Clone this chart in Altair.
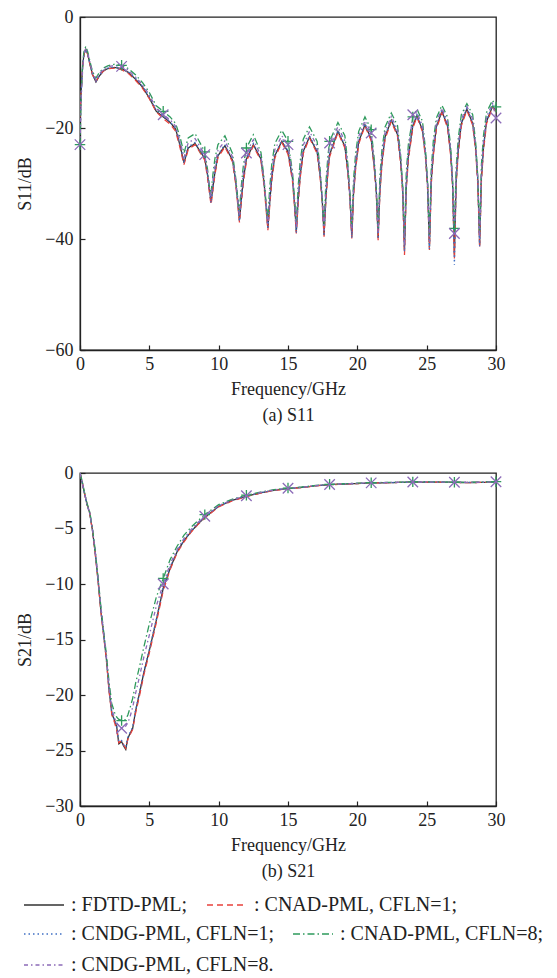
import altair as alt
import pandas as pd

SERIES = ["FDTD-PML", "CNAD-PML, CFLN=1", "CNDG-PML, CFLN=1",
          "CNAD-PML, CFLN=8", "CNDG-PML, CFLN=8"]
COLORS = ["#333333", "#e8413c", "#3f6fc4", "#2e9a5c", "#8c6bb8"]
DASHES = [[1, 0], [6, 4], [1.5, 3], [7, 3, 1.5, 3], [4, 3, 1.5, 3]]
MARKER_SERIES = ["CNAD-PML, CFLN=8", "CNDG-PML, CFLN=8"]
MARKER_COLORS = ["#2e9a5c", "#8c6bb8"]
MARKER_SHAPES = ["M-1,0L1,0M0,-1L0,1", "M-1,-1L1,1M-1,1L1,-1"]
X_TICKS = [0, 5, 10, 15, 20, 25, 30]

# ---------------- S11 ----------------
S11_FREQ = [0, 0.1, 0.2, 0.3, 0.42, 0.55, 0.7, 0.9, 1.15, 1.4, 1.7, 2.0, 2.5, 3.0, 3.5,
            4.0, 4.5, 5.0, 5.5, 6.0, 6.5, 6.9, 7.2, 7.5, 7.8, 8.3,
            9.0, 9.2, 9.33, 9.45, 9.58, 9.73, 9.95, 10.45,
            11.0, 11.22, 11.37, 11.5, 11.63, 11.78, 12.0, 12.5,
            13.05, 13.27, 13.42, 13.55, 13.68, 13.83, 14.05, 14.55,
            15.0, 15.32, 15.47, 15.6, 15.73, 15.88, 16.1, 16.55,
            17.1, 17.32, 17.47, 17.6, 17.73, 17.88, 18.0, 18.6,
            19.1, 19.32, 19.47, 19.6, 19.73, 19.88, 20.1, 20.55,
            21.0, 21.22, 21.37, 21.5, 21.63, 21.78, 22.0, 22.45,
            22.9, 23.12, 23.27, 23.4, 23.53, 23.68, 24.0, 24.3,
            24.7, 24.92, 25.07, 25.2, 25.33, 25.48, 25.7, 26.1,
            26.5, 26.72, 26.87, 27.0, 27.13, 27.28, 27.5, 27.9,
            28.32, 28.54, 28.69, 28.82, 28.95, 29.1, 29.32, 29.75, 30.0]

S11_FDTD = [-18, -12.5, -8.5, -6.5, -5.8, -6.6, -8.3, -10.3, -11.7, -10.6, -9.7, -9.3, -9.1, -9.3, -10.0,
            -11.2, -12.6, -14.6, -17.0, -18.0, -19.0, -20.2, -23.0, -26.3, -23.6, -22.8,
            -25.5, -28.5, -31.0, -33.3, -30.8, -28.0, -25.0, -23.2,
            -25.8, -29.5, -33.0, -36.6, -33.0, -29.3, -25.6, -23.0,
            -25.6, -29.8, -34.0, -38.0, -33.5, -29.0, -25.0, -22.4,
            -24.3, -29.0, -33.5, -38.7, -33.0, -28.5, -24.2, -21.6,
            -24.3, -28.5, -33.0, -39.3, -32.5, -27.5, -24.8, -20.6,
            -23.3, -27.8, -32.5, -39.6, -31.5, -26.8, -22.5, -19.4,
            -22.0, -26.8, -31.5, -39.8, -31.0, -26.0, -21.6, -18.6,
            -21.2, -25.8, -31.0, -42.0, -30.3, -25.2, -19.6, -17.8,
            -20.4, -25.0, -30.5, -41.5, -29.5, -24.5, -19.8, -17.0,
            -19.6, -24.2, -30.0, -43.0, -29.3, -24.0, -19.2, -16.6,
            -19.2, -23.8, -29.5, -41.1, -28.8, -23.5, -18.8, -16.1, -16.8]

S11_CNAD1 = [-18, -12.6, -8.6, -6.6, -5.9, -6.7, -8.4, -10.4, -11.6, -10.5, -9.7, -9.3, -9.2, -9.5, -10.2,
             -11.4, -12.8, -14.7, -17.1, -18.3, -19.3, -20.6, -23.4, -26.6, -23.9, -23.0,
             -25.8, -29.0, -31.6, -33.8, -31.3, -28.4, -25.3, -23.4,
             -26.1, -30.0, -33.6, -37.0, -33.5, -29.8, -26.0, -23.2,
             -25.9, -30.3, -34.6, -38.4, -34.1, -29.5, -25.4, -22.6,
             -24.7, -29.5, -34.1, -39.0, -33.6, -29.0, -24.6, -21.8,
             -24.6, -29.0, -33.6, -39.6, -33.1, -28.0, -25.2, -20.8,
             -23.6, -28.3, -33.1, -39.9, -32.1, -27.3, -22.9, -19.6,
             -22.3, -27.3, -32.1, -40.2, -31.6, -26.5, -22.0, -18.8,
             -21.5, -26.3, -31.8, -42.9, -31.0, -25.7, -20.0, -18.0,
             -20.7, -25.5, -31.2, -42.0, -30.2, -25.0, -20.2, -17.2,
             -19.9, -24.7, -30.7, -43.5, -30.0, -24.5, -19.6, -16.8,
             -19.5, -24.3, -30.2, -41.6, -29.5, -24.0, -19.2, -16.3, -17.0]

S11_CNDG1 = [-18.5, -13, -8.7, -6.6, -5.9, -6.7, -8.3, -10.3, -11.6, -10.5, -9.6, -9.2, -9.0, -9.2, -9.9,
             -11.0, -12.4, -14.4, -16.8, -17.9, -18.9, -20.1, -22.8, -26.0, -23.4, -22.6,
             -25.3, -28.4, -31.0, -33.5, -31.0, -27.9, -24.8, -23.0,
             -25.6, -29.4, -33.0, -36.8, -33.2, -29.2, -25.4, -22.8,
             -25.4, -29.7, -34.0, -38.2, -33.7, -28.9, -24.8, -22.2,
             -24.1, -28.9, -33.5, -38.9, -33.2, -28.4, -24.0, -21.4,
             -24.1, -28.4, -33.0, -39.5, -32.7, -27.4, -24.6, -20.4,
             -23.1, -27.7, -32.5, -39.8, -31.7, -26.7, -22.3, -19.2,
             -21.8, -26.7, -31.5, -40.0, -31.2, -25.9, -21.4, -18.4,
             -21.0, -25.7, -31.0, -42.3, -30.5, -25.1, -19.4, -17.6,
             -20.2, -24.9, -30.5, -41.8, -29.7, -24.4, -19.6, -16.8,
             -19.4, -24.1, -30.2, -44.7, -29.5, -23.9, -19.0, -16.4,
             -19.0, -23.7, -29.5, -41.3, -29.0, -23.4, -18.6, -15.9, -16.6]

S11_CNAD8 = [-23, -13, -8, -6, -5.3, -6.2, -7.8, -9.8, -11.0, -10.0, -9.2, -8.8, -8.5, -8.7, -9.3,
             -10.4, -11.8, -13.6, -16.0, -17.0, -18.0, -19.2, -21.5, -24.5, -21.8, -21.0,
             -24.3, -27.5, -30.5, -31.8, -28.5, -25.5, -23.0, -21.4,
             -24.6, -28.8, -32.5, -34.8, -30.5, -26.8, -23.6, -21.2,
             -24.4, -29.0, -33.6, -36.3, -30.8, -26.5, -22.8, -20.4,
             -22.4, -27.8, -32.8, -37.0, -30.6, -26.0, -22.0, -19.8,
             -22.4, -27.5, -32.6, -37.5, -30.0, -25.0, -22.4, -19.0,
             -21.4, -26.6, -32.0, -37.8, -29.2, -24.5, -20.6, -18.0,
             -20.3, -25.6, -31.0, -38.0, -28.6, -23.8, -19.8, -17.3,
             -19.6, -24.8, -30.5, -40.0, -28.0, -23.0, -18.0, -16.6,
             -18.8, -24.0, -30.0, -39.5, -27.5, -22.3, -18.2, -15.9,
             -18.0, -23.2, -29.5, -38.1, -27.0, -21.8, -17.6, -15.6,
             -17.6, -22.8, -29.0, -39.0, -26.5, -21.3, -17.2, -15.0, -16.2]

S11_CNDG8 = [-23, -14, -9, -6.5, -5.6, -6.4, -8.0, -10.0, -11.3, -10.2, -9.4, -9.0, -8.7, -8.9, -9.6,
             -10.8, -12.2, -14.0, -16.5, -17.6, -18.5, -19.7, -22.2, -25.3, -22.7, -21.9,
             -24.8, -28.0, -30.8, -32.6, -29.6, -26.8, -24.0, -22.3,
             -25.2, -29.2, -32.8, -35.8, -31.8, -28.0, -24.5, -22.1,
             -25.0, -29.4, -33.8, -37.3, -32.2, -27.8, -23.9, -21.4,
             -23.0, -28.4, -33.2, -38.0, -31.8, -27.2, -23.1, -20.6,
             -23.3, -28.0, -32.8, -38.5, -31.2, -26.2, -22.7, -19.8,
             -22.3, -27.2, -32.3, -38.7, -30.4, -25.6, -21.5, -18.7,
             -20.9, -26.2, -31.3, -39.0, -29.8, -24.9, -20.7, -17.9,
             -20.4, -25.3, -30.8, -41.0, -29.2, -24.1, -17.6, -17.2,
             -19.6, -24.5, -30.2, -40.5, -28.5, -23.4, -19.0, -16.4,
             -18.8, -23.7, -29.8, -39.0, -28.2, -22.9, -18.4, -16.1,
             -18.4, -23.3, -29.3, -40.0, -27.7, -22.4, -18.0, -15.6, -18.2]

# ---------------- S21 ----------------
S21_FREQ = [0, 0.15, 0.3, 0.5, 0.7, 0.9, 1.1, 1.3, 1.5, 1.7,
            1.9, 2.1, 2.3, 2.5, 2.65, 2.8, 3.0, 3.15, 3.3, 3.45,
            3.6, 3.8, 4.0, 4.3, 4.6, 5.0, 5.5, 6.0, 6.5, 7.0,
            7.5, 8.0, 8.5, 9.0, 10, 11, 12, 13, 14, 15,
            16, 17, 18, 19, 20, 21, 22, 23, 24, 25, 26, 27, 28, 29, 30]

S21_FDTD = [0, -0.8, -1.7, -2.8, -3.6, -5.2, -7.2, -9.6, -12.3, -14.5,
            -16.7, -19.6, -21.7, -22.3, -22.9, -24.4, -24.2, -24.6, -24.9, -23.9,
            -23.5, -23.0, -21.5, -19.8, -18.0, -16.0, -13.3, -10.4, -8.6, -7.1,
            -6.1, -5.3, -4.6, -4.0, -3.0, -2.45, -2.1, -1.8, -1.55, -1.4,
            -1.3, -1.15, -1.05, -1.0, -0.95, -0.9, -0.88, -0.85, -0.82, -0.82, -0.83, -0.85, -0.86, -0.85, -0.8]

S21_CNAD1 = [0, -0.8, -1.7, -2.8, -3.6, -5.2, -7.3, -9.7, -12.4, -14.6,
             -16.8, -19.7, -21.8, -22.5, -23.2, -24.3, -24.1, -24.5, -24.8, -24.0,
             -23.6, -23.1, -21.7, -20.0, -18.2, -16.2, -13.5, -10.6, -8.7, -7.2,
             -6.2, -5.35, -4.65, -4.05, -3.05, -2.5, -2.12, -1.82, -1.57, -1.42,
             -1.31, -1.16, -1.06, -1.0, -0.95, -0.9, -0.88, -0.85, -0.83, -0.82, -0.83, -0.85, -0.86, -0.85, -0.8]

S21_CNDG1 = [0, -0.8, -1.7, -2.8, -3.6, -5.1, -7.2, -9.6, -12.2, -14.4,
             -16.6, -19.5, -21.6, -22.3, -22.8, -24.2, -24.1, -24.5, -24.7, -23.8,
             -23.4, -22.9, -21.4, -19.7, -17.9, -15.9, -13.2, -10.3, -8.5, -7.05,
             -6.05, -5.25, -4.55, -3.95, -2.98, -2.43, -2.08, -1.79, -1.54, -1.4,
             -1.29, -1.14, -1.04, -0.99, -0.94, -0.9, -0.87, -0.85, -0.82, -0.81, -0.82, -0.84, -0.85, -0.84, -0.8]

S21_CNAD8 = [0, -0.7, -1.6, -2.7, -3.5, -5.0, -7.0, -9.4, -12.0, -14.2,
             -16.3, -18.9, -20.8, -21.6, -22.0, -22.2, -22.3, -22.3, -22.2, -21.8,
             -21.2, -20.3, -19.0, -17.4, -15.7, -13.6, -11.2, -9.5, -7.8, -6.6,
             -5.6, -4.9, -4.3, -3.75, -2.85, -2.35, -2.0, -1.72, -1.5, -1.36,
             -1.26, -1.12, -1.02, -0.97, -0.92, -0.88, -0.85, -0.83, -0.8, -0.8, -0.81, -0.83, -0.84, -0.82, -0.78]

S21_CNDG8 = [0, -0.8, -1.7, -2.8, -3.6, -5.1, -7.1, -9.5, -12.1, -14.4,
             -16.5, -19.3, -21.3, -22.1, -22.5, -22.8, -23.0, -22.9, -22.8, -22.5,
             -22.0, -21.1, -19.9, -18.3, -16.6, -14.6, -12.0, -10.0, -8.2, -6.9,
             -5.9, -5.1, -4.45, -3.9, -2.95, -2.4, -2.05, -1.76, -1.52, -1.38,
             -1.28, -1.13, -1.03, -0.98, -0.93, -0.89, -0.86, -0.84, -0.81, -0.81, -0.82, -0.84, -0.85, -0.83, -0.79]


def long_frame(freq, columns):
    rows = []
    for k, (name, vals) in enumerate(zip(SERIES, columns)):
        assert len(vals) == len(freq), (name, len(vals), len(freq))
        for f, v in zip(freq, vals):
            rows.append({"f": f, "v": v, "series": name, "k": k})
    return pd.DataFrame(rows)


df11 = long_frame(S11_FREQ, [S11_FDTD, S11_CNAD1, S11_CNDG1, S11_CNAD8, S11_CNDG8])
df21 = long_frame(S21_FREQ, [S21_FDTD, S21_CNAD1, S21_CNDG1, S21_CNAD8, S21_CNDG8])

FONT = "Liberation Serif"
TXT = "#222222"
LABEL_EXPR = ("datum.label == 'CNDG-PML, CFLN=8' ? ': ' + datum.label + '.' "
              ": ': ' + datum.label + ';'")


def make_legend(ly):
    return alt.Legend(
        title=None, orient="none", legendX=-57, legendY=ly,
        direction="horizontal", columns=2,
        symbolType="stroke", symbolSize=1600,
        symbolStrokeWidth=1.5, labelFont=FONT, labelFontSize=20, labelColor=TXT,
        labelOffset=6, columnPadding=16, rowPadding=-1, labelLimit=0,
        labelExpr=LABEL_EXPR,
    )


def axes(ydom, yvals, ytitle, caption):
    x = alt.X("f:Q", scale=alt.Scale(domain=[0, 30], nice=False, zero=False),
              axis=alt.Axis(values=X_TICKS, title=["Frequency/GHz", caption], format="d",
                            labelFlush=False, labelPadding=10, titlePadding=7,
                            titleLineHeight=26))
    y = alt.Y("v:Q", scale=alt.Scale(domain=ydom, nice=False, zero=False),
              axis=alt.Axis(values=yvals, title=ytitle, format="d", labelFlush=False,
                            labelPadding=12, titlePadding=10))
    return x, y


def line_layer(df, x, y, names, legend):
    cols = [COLORS[SERIES.index(n)] for n in names]
    dashes = [DASHES[SERIES.index(n)] for n in names]
    return alt.Chart(df).transform_filter(
        alt.FieldOneOfPredicate(field="series", oneOf=names)
    ).mark_line(strokeWidth=1.3, clip=True).encode(
        x=x, y=y,
        color=alt.Color("series:N", scale=alt.Scale(domain=names, range=cols),
                        legend=legend, sort=names),
        strokeDash=alt.StrokeDash("series:N", scale=alt.Scale(domain=names, range=dashes),
                                  legend=legend, sort=names),
        order="f:Q",
    )


def marker_layer(df, x, y, marker_from):
    return alt.Chart(df).transform_filter(
        alt.FieldOneOfPredicate(field="series", oneOf=MARKER_SERIES)
    ).transform_filter(
        f"datum.f >= {marker_from} && abs(datum.f - round(datum.f / 3) * 3) < 1e-6"
    ).mark_point(filled=False, size=110, strokeWidth=1.3, opacity=1).encode(
        x=x, y=y,
        stroke=alt.Stroke("series:N", scale=alt.Scale(domain=MARKER_SERIES, range=MARKER_COLORS), legend=None),
        shape=alt.Shape("series:N", scale=alt.Scale(domain=MARKER_SERIES, range=MARKER_SHAPES), legend=None),
    )


x11, y11 = axes([-60, 0], [0, -20, -40, -60], "S11/dB", "(a) S11")
top = alt.layer(
    line_layer(df11, x11, y11, SERIES, None),
    marker_layer(df11, x11, y11, 0),
).properties(width=416, height=333)

x21, y21 = axes([-30, 0], [0, -5, -10, -15, -20, -25, -30], "S21/dB", "(b) S21")
bottom = alt.layer(
    line_layer(df21, x21, y21, SERIES[:2], make_legend(411)),
    line_layer(df21, x21, y21, SERIES[2:], make_legend(440)),
    marker_layer(df21, x21, y21, 3),
).resolve_scale(
    color="independent", strokeDash="independent",
).properties(width=416, height=333)

chart = alt.vconcat(top, bottom, spacing=38).resolve_scale(
    x="independent", y="independent", color="independent", strokeDash="independent",
    stroke="independent", shape="independent",
).properties(
    padding={"left": 16, "top": 7, "right": 5, "bottom": 5},
    background="white",
).configure_view(
    stroke="#222222", strokeWidth=1.3,
).configure_axis(
    grid=False, domainColor="#222222", domainWidth=1.3, tickColor="#222222",
    tickWidth=1.2, tickSize=alt.ExprRef(expr="-5"),
    labelFont=FONT, labelFontSize=18, labelColor=TXT,
    titleFont=FONT, titleFontSize=18, titleFontWeight="normal", titleColor=TXT,
)

chart.save("out.html", embed_options={"renderer": "svg", "actions": False})
